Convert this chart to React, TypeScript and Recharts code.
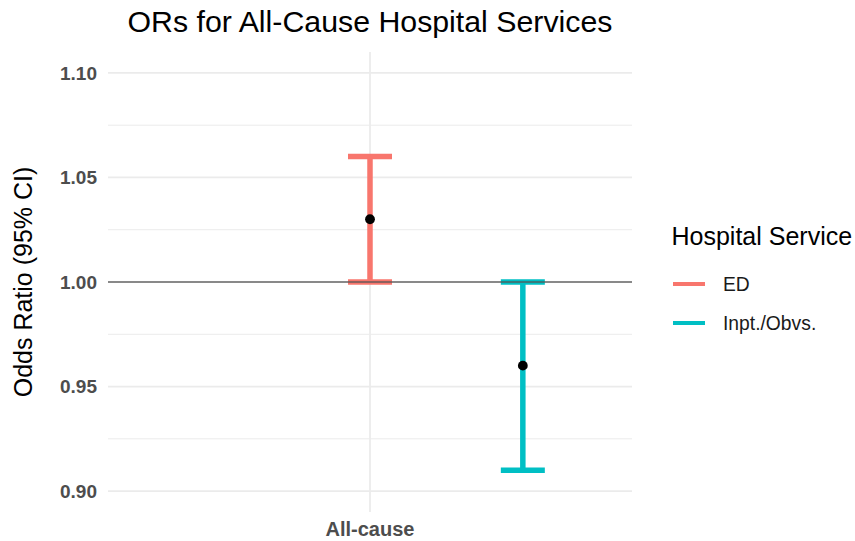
import React from "react";
import {
  ComposedChart,
  Scatter,
  ErrorBar,
  XAxis,
  YAxis,
  CartesianGrid,
  ReferenceLine,
} from "recharts";

const categories = ["All-cause"];
const services = ["ED", "Inpt./Obvs."];
const dodgeOffsets = [0, 0.35];
const oddsRatios = [1.03, 0.96];
const lowerCI = [1.0, 0.91];
const upperCI = [1.06, 1.0];
const serviceColors = ["#F8766D", "#00BFC4"];
const yTicks = [0.9, 0.95, 1.0, 1.05, 1.1];
const yMinorTicks = [0.925, 0.975, 1.025, 1.075];
const xTicks = [1];

const rows = services.map((s, i) => ({
  service: s,
  x: 1 + dodgeOffsets[i],
  or: oddsRatios[i],
  err: [oddsRatios[i] - lowerCI[i], upperCI[i] - oddsRatios[i]],
}));

const FONT = "'Liberation Sans', Arial, sans-serif";

const YLabel = (props: any) => {
  const vb = props.viewBox || { x: 0, y: 0, height: 0 };
  const cx = vb.x + 23;
  const cy = vb.y + vb.height / 2;
  return (
    <text
      x={cx}
      y={cy}
      transform={`rotate(-90, ${cx}, ${cy})`}
      textAnchor="middle"
      dominantBaseline="central"
      fontFamily={FONT}
      fontSize={25}
      fill="#000"
    >
      Odds Ratio (95% CI)
    </text>
  );
};

const Dot = (p: any) => <circle cx={p.cx} cy={p.cy} r={4.9} fill="#000" />;

const LegendBox = () => (
  <svg
    width={195}
    height={130}
    style={{ position: "absolute", left: 660, top: 215, pointerEvents: "none" }}
  >
    <text x={11.5} y={30} fontFamily={FONT} fontSize={25} fill="#000">
      Hospital Service
    </text>
    {services.map((s, i) => (
      <g key={s}>
        <line
          x1={13}
          x2={45}
          y1={69 + i * 39}
          y2={69 + i * 39}
          stroke={serviceColors[i]}
          strokeWidth={4}
        />
        <text
          x={63}
          y={69 + i * 39}
          dominantBaseline="central"
          fontFamily={FONT}
          fontSize={19.3}
          fill="#1a1a1a"
        >
          {s}
        </text>
      </g>
    ))}
  </svg>
);

export default function App() {
  return (
    <div style={{ position: "absolute", left: 0, top: 0, width: 855, height: 541, background: "#fff" }}>
      <svg
        width={855}
        height={45}
        style={{ position: "absolute", left: 0, top: 0, pointerEvents: "none" }}
      >
        <text x={370} y={32} textAnchor="middle" fontFamily={FONT} fontSize={30.3} fill="#000">
          ORs for All-Cause Hospital Services
        </text>
      </svg>
      <ComposedChart
        width={855}
        height={541}
        margin={{ top: 52, right: 223, bottom: 0, left: 0 }}
      >
        <CartesianGrid
          horizontalValues={yMinorTicks}
          vertical={false}
          stroke="#EBEBEB"
          strokeWidth={1}
        />
        <CartesianGrid
          horizontalValues={yTicks}
          verticalValues={xTicks}
          stroke="#EBEBEB"
          strokeWidth={1.8}
        />
        <XAxis
          type="number"
          dataKey="x"
          domain={[0.4, 1.6]}
          ticks={xTicks}
          tickFormatter={() => categories[0]}
          height={29}
          axisLine={false}
          tickLine={false}
          tickSize={0}
          tickMargin={10}
          tick={{ fontFamily: FONT, fontSize: 20, fontWeight: "bold", fill: "#4D4D4D" }}
          allowDataOverflow
        />
        <YAxis
          type="number"
          dataKey="or"
          domain={[0.89, 1.11]}
          ticks={yTicks}
          tickFormatter={(v: number) => v.toFixed(2)}
          width={108}
          axisLine={false}
          tickLine={false}
          tickSize={0}
          tickMargin={11}
          tick={{ fontFamily: FONT, fontSize: 19, fontWeight: "bold", fill: "#4D4D4D" }}
          allowDataOverflow
          label={<YLabel />}
        />
        {rows.map((r, i) => (
          <Scatter
            key={r.service}
            name={r.service}
            data={[r]}
            fill="#000"
            shape={<Dot />}
            isAnimationActive={false}
          >
            <ErrorBar
              dataKey="err"
              direction="y"
              width={22}
              stroke={serviceColors[i]}
              strokeWidth={5.5}
              isAnimationActive={false}
            />
          </Scatter>
        ))}
        <ReferenceLine y={1} stroke="#555555" strokeOpacity={0.65} strokeWidth={2} />
      </ComposedChart>
      <LegendBox />
    </div>
  );
}
